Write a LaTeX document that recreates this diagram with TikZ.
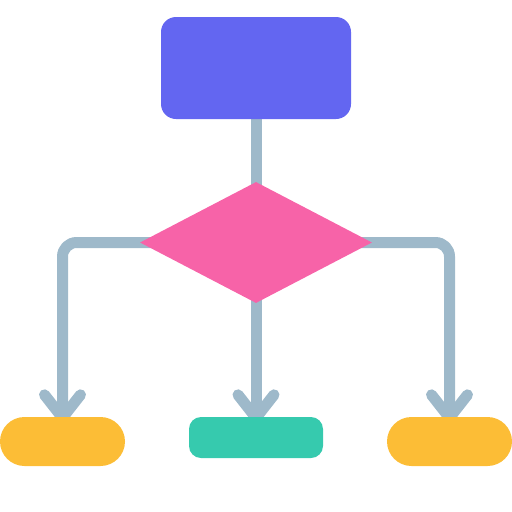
\documentclass[tikz,border=0pt]{standalone}
\usetikzlibrary{shapes.geometric,backgrounds}
\definecolor{cpurple}{RGB}{99,102,241}
\definecolor{cpink}{RGB}{247,99,168}
\definecolor{cline}{RGB}{158,185,202}
\definecolor{cyellow}{RGB}{252,189,54}
\definecolor{cteal}{RGB}{54,202,174}
\tikzset{
  box/.style={rectangle,inner sep=0pt,draw=none},
  conn/.style={draw=cline,line width=11pt,line cap=round,line join=round},
}
\begin{document}
\begin{tikzpicture}[x=1pt,y=-1pt]
\useasboundingbox (0,0) rectangle (512,512);
\node[box,fill=cpurple,rounded corners=15pt,minimum width=190pt,minimum height=102pt] (top) at (256,68) {};
\node[diamond,inner sep=0pt,fill=cpink,minimum width=232pt,minimum height=121pt] (dia) at (256,242.5) {};
\node[box,fill=cyellow,rounded corners=24.5pt,minimum width=125pt,minimum height=49pt] (lp) at (62.5,441.5) {};
\node[box,fill=cteal,rounded corners=12pt,minimum width=134pt,minimum height=41pt] (mid) at (256,437.5) {};
\node[box,fill=cyellow,rounded corners=24.5pt,minimum width=125pt,minimum height=49pt] (rp) at (449.5,441.5) {};
\coordinate (lt) at ([yshift=-1pt]lp.north);
\coordinate (mt) at ([yshift=-1pt]mid.north);
\coordinate (rt) at ([yshift=-1pt]rp.north);
\begin{scope}[on background layer]
\draw[conn] (top.center) -- (dia.center) -- (mt);
\draw[conn,rounded corners=14pt] (dia.center) -| (lt);
\draw[conn,rounded corners=14pt] (dia.center) -| (rt);
\draw[conn] (lt) ++(-18,-23) -- (lt) -- ++(18,-23);
\draw[conn] (mt) ++(-18,-23) -- (mt) -- ++(18,-23);
\draw[conn] (rt) ++(-18,-23) -- (rt) -- ++(18,-23);
\end{scope}
\end{tikzpicture}
\end{document}
